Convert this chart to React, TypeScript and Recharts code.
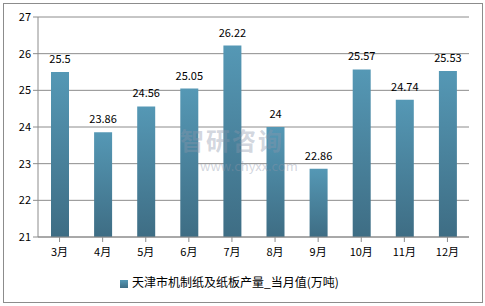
// Monthly paper output bar chart with recharts
import React from "react";
import { BarChart, Bar, XAxis, YAxis, CartesianGrid, Legend, LabelList } from "recharts";

const months = ["3月", "4月", "5月", "6月", "7月", "8月", "9月", "10月", "11月", "12月"];
const output = [25.5, 23.86, 24.56, 25.05, 26.22, 24, 22.86, 25.57, 24.74, 25.53];
const yTicks = [21, 22, 23, 24, 25, 26, 27];
const seriesName = "天津市机制纸及纸板产量_当月值(万吨)";

const data = months.map((m, i) => ({ month: m, value: output[i] }));

const font = "'Microsoft YaHei', 'Noto Sans CJK SC', 'DejaVu Sans', sans-serif";

const App: React.FC = () => {
  return (
    <div style={{ position: "absolute", left: 0, top: 0, width: 485, height: 306, background: "#fff", fontFamily: font }}>
      <div
        style={{
          position: "absolute",
          left: 3,
          top: 3,
          width: 478,
          height: 298,
          border: "1px solid #8c8c8c",
        }}
      />
      <BarChart
        width={485}
        height={306}
        data={data}
        margin={{ top: 17, right: 16, left: 0, bottom: 18 }}
        barSize={18}
      >
        <defs>
          <linearGradient id="barFill" x1="0" y1="0" x2="0" y2="1">
            <stop offset="0%" stopColor="#5598b5" />
            <stop offset="100%" stopColor="#3e6d84" />
          </linearGradient>
        </defs>
        <CartesianGrid vertical={false} stroke="#8c8c8c" />
        <XAxis
          dataKey="month"
          stroke="#8c8c8c"
          tick={{ fill: "#000", fontSize: 11, fontFamily: font }}
          tickLine={{ stroke: "#8c8c8c" }}
          tickSize={5}
          height={34}
          tickMargin={6}
        />
        <YAxis
          domain={[21, 27]}
          ticks={yTicks}
          stroke="#8c8c8c"
          tick={{ fill: "#000", fontSize: 11, fontFamily: font }}
          tickLine={{ stroke: "#8c8c8c" }}
          tickSize={5}
          width={38}
          interval={0}
        />
        <Legend
          verticalAlign="bottom"
          iconType="square"
          iconSize={8}
          wrapperStyle={{ fontSize: 12, fontFamily: font, color: "#000", bottom: 16 }}
          formatter={(v: string) => <span style={{ color: "#000" }}>{v}</span>}
        />
        <Bar dataKey="value" name={seriesName} fill="url(#barFill)" legendType="square" isAnimationActive={false}>
          <LabelList dataKey="value" position="top" offset={9} style={{ fill: "#000", fontSize: 11, fontFamily: font }} />
        </Bar>
      </BarChart>
      <div
        style={{
          position: "absolute",
          left: 180,
          top: 126,
          color: "rgba(140,150,170,0.4)",
          fontSize: 24,
          lineHeight: "28px",
          fontWeight: "bold",
          letterSpacing: 2,
          pointerEvents: "none",
        }}
      >
        智研咨询
      </div>
      <div
        style={{
          position: "absolute",
          left: 200,
          top: 158,
          color: "rgba(140,150,170,0.4)",
          fontSize: 13,
          lineHeight: "15px",
          pointerEvents: "none",
        }}
      >
        www.chyxx.com
      </div>
    </div>
  );
};

export default App;
